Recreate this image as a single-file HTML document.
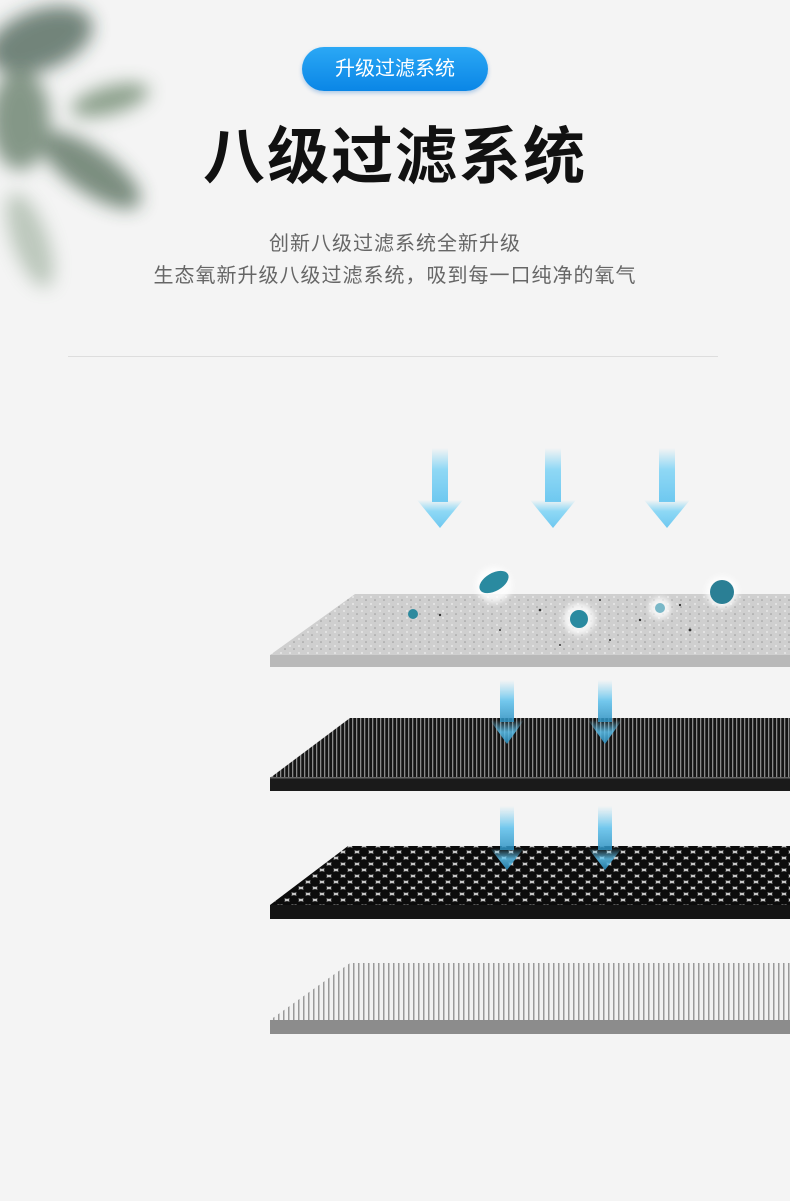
<!DOCTYPE html>
<html><head><meta charset="utf-8"><style>
html,body{margin:0;padding:0;}
body{width:790px;height:1201px;background:#f4f4f4;position:relative;overflow:hidden;font-family:"Liberation Sans","Noto Sans CJK SC",sans-serif;}
.badge{position:absolute;left:302px;top:47px;width:186px;height:44px;border-radius:22px;background:linear-gradient(180deg,#2ba8f5,#0a86e6);color:#fff;font-size:20px;line-height:44px;text-align:center;box-shadow:0 2px 4px rgba(0,100,200,.3);}
.title{position:absolute;left:0;width:790px;top:118px;text-align:center;font-size:62px;font-weight:bold;color:#111;line-height:80px;letter-spacing:2px;}
.sub{position:absolute;left:0;width:790px;text-align:center;font-size:20px;letter-spacing:1px;color:#666;}
.line{position:absolute;left:68px;top:356px;width:650px;height:1px;background:#ddd;}
</style></head><body>
<svg width="790" height="1201" style="position:absolute;left:0;top:0">
<defs>
<filter id="bl"><feGaussianBlur stdDeviation="9"/></filter>
<filter id="bl2"><feGaussianBlur stdDeviation="3"/></filter>
<linearGradient id="ar" x1="0" y1="0" x2="0" y2="1"><stop offset="0" stop-color="#8fd8f5" stop-opacity="0"/><stop offset=".4" stop-color="#8fd8f5"/><stop offset="1" stop-color="#6ec8f0"/></linearGradient>
<linearGradient id="ar2" x1="0" y1="0" x2="0" y2="1"><stop offset="0" stop-color="#6ccbf0" stop-opacity="0"/><stop offset=".5" stop-color="#5cc0ec"/><stop offset="1" stop-color="#2a8fc0"/></linearGradient>
<pattern id="str" width="4" height="10" patternUnits="userSpaceOnUse"><rect width="4" height="10" fill="#151515"/><rect width="1.3" height="10" fill="#8a8a8a"/></pattern>
<pattern id="hex" width="14" height="12" patternUnits="userSpaceOnUse"><rect width="14" height="12" fill="#c8c8c8"/><circle cx="7" cy="6" r="4.9" fill="#0c0c0c"/><circle cx="0" cy="0" r="4.9" fill="#0c0c0c"/><circle cx="14" cy="0" r="4.9" fill="#0c0c0c"/><circle cx="0" cy="12" r="4.9" fill="#0c0c0c"/><circle cx="14" cy="12" r="4.9" fill="#0c0c0c"/></pattern>
<pattern id="wh" width="5" height="10" patternUnits="userSpaceOnUse"><rect width="5" height="10" fill="#f2f2f2"/><rect x="3" width="1.5" height="10" fill="#9a9a9a"/></pattern>
<pattern id="spk" width="9" height="7" patternUnits="userSpaceOnUse"><rect width="9" height="7" fill="#cfcfcf"/><circle cx="2" cy="2" r="1" fill="#e8e8e8"/><circle cx="6" cy="5" r=".8" fill="#999"/></pattern>
</defs>
<g filter="url(#bl)" opacity=".6">
<ellipse cx="40" cy="40" rx="55" ry="30" fill="#1f3a2a" transform="rotate(-20 40 40)"/>
<ellipse cx="90" cy="170" rx="60" ry="22" fill="#2c4a33" transform="rotate(35 90 170)"/>
<ellipse cx="20" cy="120" rx="30" ry="50" fill="#3a5a40"/>
<ellipse cx="110" cy="100" rx="40" ry="14" fill="#4a6a48" transform="rotate(-15 110 100)"/>
<ellipse cx="30" cy="240" rx="18" ry="50" fill="#5a7a5a" opacity=".6" transform="rotate(-20 30 240)"/>
</g>
<g fill="url(#ar)">
<rect x="432" y="448" width="16" height="54"/><polygon points="417,500 463,500 440,528"/>
<rect x="545" y="448" width="16" height="54"/><polygon points="530,500 576,500 553,528"/>
<rect x="659" y="448" width="16" height="54"/><polygon points="644,500 690,500 667,528"/>
</g>
<polygon points="355,594 790,594 790,655 270,655" fill="url(#spk)"/>
<rect x="270" y="655" width="520" height="12" fill="#b9b9b9"/>
<g fill="#333"><circle cx="440" cy="615" r="1.2"/><circle cx="500" cy="630" r="1"/><circle cx="540" cy="610" r="1.3"/><circle cx="610" cy="640" r="1"/><circle cx="640" cy="620" r="1.2"/><circle cx="690" cy="630" r="1.4"/><circle cx="560" cy="645" r="1"/><circle cx="600" cy="600" r="1"/><circle cx="680" cy="605" r="1.1"/></g>
<g filter="url(#bl2)" fill="#fff" opacity=".8"><circle cx="494" cy="585" r="18"/><circle cx="579" cy="619" r="16"/><circle cx="660" cy="608" r="11"/><circle cx="722" cy="592" r="16"/></g>
<ellipse cx="494" cy="582" rx="16" ry="9" fill="#2a8aa0" transform="rotate(-30 494 582)"/>
<circle cx="413" cy="614" r="5" fill="#2d8a9e"/><circle cx="579" cy="619" r="9" fill="#2a8aa0"/><circle cx="660" cy="608" r="5" fill="#7ab8c8"/><circle cx="722" cy="592" r="12" fill="#2a7f95"/>
<polygon points="350,718 790,718 790,778 270,778" fill="url(#str)"/>
<rect x="270" y="778" width="520" height="13" fill="#1a1a1a"/><rect x="270" y="777" width="520" height="1.5" fill="#666"/>
<polygon points="348,846 790,846 790,905 270,905" fill="url(#hex)"/>
<rect x="270" y="905" width="520" height="14" fill="#141414"/>
<polygon points="350,963 790,963 790,1020 270,1020" fill="url(#wh)"/>
<rect x="270" y="1020" width="520" height="14" fill="#8c8c8c"/>
<g fill="url(#ar2)" opacity=".85">
<rect x="500" y="680" width="14" height="42"/><polygon points="490,720 524,720 507,744"/>
<rect x="598" y="680" width="14" height="42"/><polygon points="588,720 622,720 605,744"/>
<rect x="500" y="806" width="14" height="44"/><polygon points="490,848 524,848 507,870"/>
<rect x="598" y="806" width="14" height="44"/><polygon points="588,848 622,848 605,870"/>
</g>
</svg>
<div class="badge">升级过滤系统</div>
<div class="title">八级过滤系统</div>
<div class="sub" style="top:227px">创新八级过滤系统全新升级</div>
<div class="sub" style="top:259px">生态氧新升级八级过滤系统，吸到每一口纯净的氧气</div>
<div class="line"></div>
</body></html>
